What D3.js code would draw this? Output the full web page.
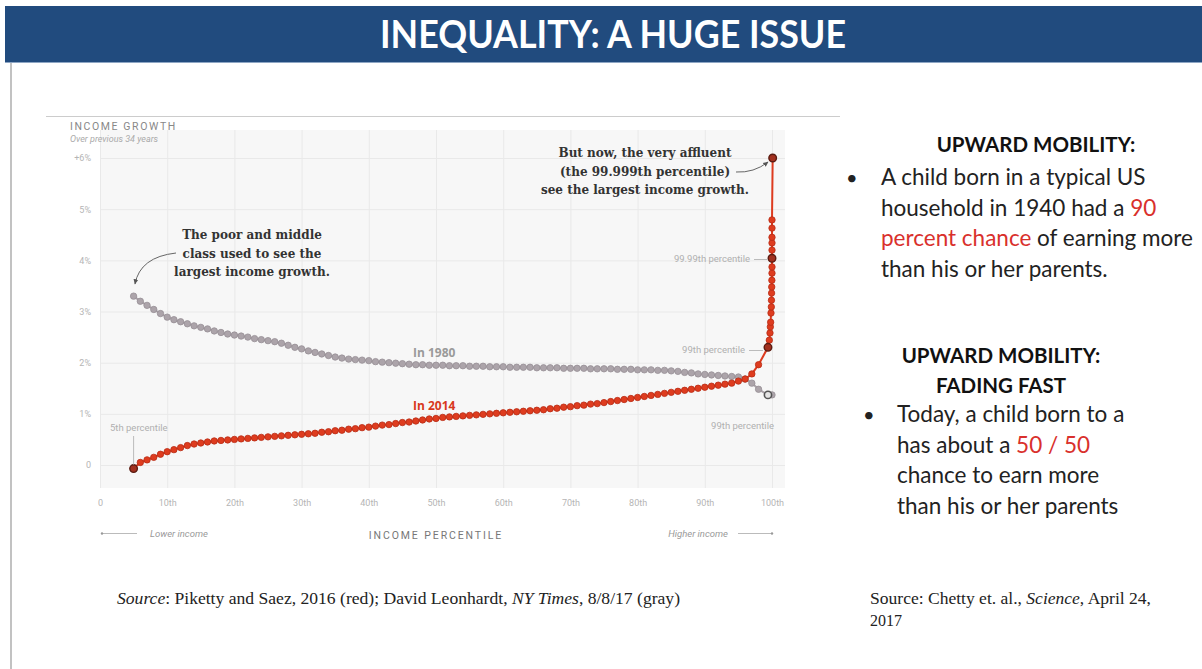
<!DOCTYPE html>
<html>
<head>
<meta charset="utf-8">
<script src="https://cdn.jsdelivr.net/npm/d3@7"></script>
<style>
  body { margin: 0; background: #fff; }
  svg { display: block; }
</style>
</head>
<body>
<script>
// income growth, % per year over previous 34 years, by income percentile
var pct1980 = [5,6,7,8,9,10,11,12,13,14,15,16,17,18,19,20,21,22,23,24,25,26,27,28,29,30,
  31,32,33,34,35,36,37,38,39,40,41,42,43,44,45,46,47,48,49,50,51,52,53,54,55,56,57,58,59,60,
  61,62,63,64,65,66,67,68,69,70,71,72,73,74,75,76,77,78,79,80,81,82,83,84,85,86,87,88,89,90,
  91,92,93,94,95,96,97,98,99.4,100];
var growth1980 = [3.30,3.20,3.12,3.04,2.96,2.89,2.84,2.80,2.76,2.72,2.69,2.66,2.62,2.59,2.56,2.54,
  2.52,2.50,2.47,2.45,2.43,2.41,2.38,2.34,2.30,2.27,2.23,2.20,2.17,2.14,2.11,2.09,2.07,2.06,2.05,
  2.04,2.02,2.01,2.00,1.99,1.98,1.97,1.96,1.96,1.95,1.95,1.95,1.94,1.94,1.94,1.93,1.93,1.93,1.92,
  1.92,1.92,1.91,1.91,1.91,1.91,1.90,1.90,1.90,1.90,1.89,1.89,1.89,1.89,1.88,1.88,1.88,1.88,1.87,
  1.87,1.87,1.86,1.86,1.86,1.85,1.85,1.84,1.83,1.81,1.80,1.78,1.77,1.76,1.75,1.74,1.73,1.72,1.68,
  1.60,1.48,1.37,1.37];

var pct2014 = [5,6,7,8,9,10,11,12,13,14,15,16,17,18,19,20,21,22,23,24,25,26,27,28,29,30,
  31,32,33,34,35,36,37,38,39,40,41,42,43,44,45,46,47,48,49,50,51,52,53,54,55,56,57,58,59,60,
  61,62,63,64,65,66,67,68,69,70,71,72,73,74,75,76,77,78,79,80,81,82,83,84,85,86,87,88,89,90,
  91,92,93,94,95,96,97,98,99.4,
  99.6,99.7,99.75,99.8,99.85,99.9,99.92,99.94,99.96,99.98,100,100,100,100,100,100,100,100,100.1];
var growth2014 = [-0.07,0.05,0.10,0.15,0.21,0.26,0.30,0.34,0.38,0.41,0.43,0.45,0.47,0.48,0.49,0.50,
  0.51,0.52,0.53,0.54,0.55,0.56,0.57,0.58,0.59,0.60,0.61,0.62,0.64,0.65,0.67,0.68,0.70,0.71,0.73,
  0.74,0.76,0.78,0.79,0.81,0.83,0.84,0.86,0.88,0.90,0.91,0.93,0.94,0.95,0.96,0.97,0.98,0.99,1.00,
  1.01,1.02,1.03,1.04,1.05,1.06,1.07,1.08,1.10,1.11,1.13,1.14,1.16,1.17,1.19,1.20,1.22,1.24,1.26,
  1.28,1.30,1.32,1.34,1.36,1.38,1.40,1.42,1.44,1.46,1.48,1.50,1.52,1.54,1.56,1.58,1.60,1.64,1.68,
  1.78,1.96,2.30,
  2.44,2.58,2.70,2.79,2.97,3.09,3.22,3.36,3.48,3.61,3.75,3.87,4.04,4.20,4.34,4.45,4.63,4.79,6.00];

// highlighted points (index into each series)
var darkRed = [0, 94, 107, 113];
var openGray = [94];

var xTicks = [0,10,20,30,40,50,60,70,80,90,100];
var xTickLabels = ["0","10th","20th","30th","40th","50th","60th","70th","80th","90th","100th"];
var yTicks = [0,1,2,3,4,5,6];
var yTickLabels = ["0","1%","2%","3%","4%","5%","+6%"];

var W = 1202, H = 669;
var svg = d3.select('body').append('svg').attr('width', W).attr('height', H);

// slide header
svg.append('rect').attr('x', 5).attr('y', 6).attr('width', W - 5).attr('height', 56).attr('fill', '#214b7e');
svg.append('line').attr('x1', 5).attr('x2', W).attr('y1', 62.5).attr('y2', 62.5).attr('stroke', '#8ea6c4');
svg.append('text').attr('x', 613).attr('y', 48)
  .attr('text-anchor', 'middle')
  .attr('font-family', '"Liberation Sans Narrow", Lato, sans-serif')
  .attr('font-weight', 'bold').attr('font-size', 38).attr('fill', '#fff')
  .attr('textLength', 466).attr('lengthAdjust', 'spacingAndGlyphs')
  .text('INEQUALITY: A HUGE ISSUE');
svg.append('line').attr('x1', 11).attr('x2', 11).attr('y1', 63).attr('y2', H).attr('stroke', '#999').attr('stroke-width', 1.2);

// chart picture frame
svg.append('line').attr('x1', 46).attr('x2', 840).attr('y1', 116.5).attr('y2', 116.5).attr('stroke', '#ccc');

var x = d3.scaleLinear().domain([0, 100]).range([100, 772]);
var y = d3.scaleLinear().domain([0, 6]).range([465, 158]);

var plot = svg.append('g');
plot.append('rect')
  .attr('x', x(0)).attr('y', y(6) - 28)
  .attr('width', x(100) - x(0) + 13).attr('height', y(-0.45) - y(6) + 28)
  .attr('fill', '#f7f7f7');

// grid through axes
var gx = plot.append('g').attr('transform', 'translate(0,' + (y(6) - 28) + ')')
  .call(d3.axisBottom(x).tickValues(xTicks).tickSize(y(-0.45) - y(6) + 28).tickFormat(''));
gx.select('.domain').remove();
gx.selectAll('line').attr('stroke', '#e9e9e9');

var gy = plot.append('g').attr('transform', 'translate(' + x(0) + ',0)')
  .call(d3.axisRight(y).tickValues(yTicks).tickSize(x(100) - x(0) + 13).tickFormat(''));
gy.select('.domain').remove();
gy.selectAll('line').attr('stroke', '#e9e9e9');

// tick labels
var tickFont = 'Roboto, "Noto Sans", sans-serif';
var ly = plot.append('g').attr('transform', 'translate(' + (x(0) - 6) + ',0)')
  .call(d3.axisLeft(y).tickValues(yTicks).tickSize(0).tickFormat(function (d, i) { return yTickLabels[i]; }));
ly.select('.domain').remove();
ly.selectAll('text').attr('font-family', tickFont).attr('font-size', 9).attr('fill', '#b5b5b5');

var lx = plot.append('g').attr('transform', 'translate(0,' + (y(-0.45) + 9) + ')')
  .call(d3.axisBottom(x).tickValues(xTicks).tickSize(0).tickFormat(function (d, i) { return xTickLabels[i]; }));
lx.select('.domain').remove();
lx.selectAll('text').attr('font-family', tickFont).attr('font-size', 9).attr('fill', '#b5b5b5');

// axis titles
svg.append('text').attr('x', 70).attr('y', 130)
  .attr('font-family', tickFont).attr('font-size', 10.5).attr('letter-spacing', 1.6).attr('fill', '#888')
  .text('INCOME GROWTH');
svg.append('text').attr('x', 70).attr('y', 142)
  .attr('font-family', tickFont).attr('font-size', 9).attr('font-style', 'italic').attr('fill', '#aaa')
  .text('Over previous 34 years');
svg.append('text').attr('x', (x(0) + x(100)) / 2).attr('y', 539).attr('text-anchor', 'middle')
  .attr('font-family', tickFont).attr('font-size', 10.5).attr('letter-spacing', 1.9).attr('fill', '#777')
  .text('INCOME PERCENTILE');
svg.append('text').attr('x', 150).attr('y', 537)
  .attr('font-family', tickFont).attr('font-size', 9.5).attr('font-style', 'italic').attr('fill', '#999')
  .text('Lower income');
svg.append('text').attr('x', 728).attr('y', 537).attr('text-anchor', 'end')
  .attr('font-family', tickFont).attr('font-size', 9.5).attr('font-style', 'italic').attr('fill', '#999')
  .text('Higher income');
svg.append('line').attr('x1', 103).attr('x2', 137).attr('y1', 533.5).attr('y2', 533.5).attr('stroke', '#bbb');
svg.append('circle').attr('cx', 102).attr('cy', 533.5).attr('r', 1.2).attr('fill', '#999');
svg.append('line').attr('x1', 738).attr('x2', 771).attr('y1', 533.5).attr('y2', 533.5).attr('stroke', '#bbb');
svg.append('circle').attr('cx', 772).attr('cy', 533.5).attr('r', 1.2).attr('fill', '#999');

// series
var grayData = pct1980.map(function (p, i) { return { p: p, v: growth1980[i] }; });
var redData = pct2014.map(function (p, i) { return { p: p, v: growth2014[i] }; });
var line = d3.line().x(function (d) { return x(d.p); }).y(function (d) { return y(d.v); });

plot.append('path').datum(grayData).attr('d', line)
  .attr('fill', 'none').attr('stroke', '#aaa2a8').attr('stroke-width', 2);
plot.append('g').selectAll('circle').data(grayData).enter().append('circle')
  .attr('cx', function (d) { return x(d.p); })
  .attr('cy', function (d) { return y(d.v); })
  .attr('r', 3.2)
  .attr('fill', '#aca4aa').attr('stroke', '#978f95').attr('stroke-width', 0.8);
plot.append('g').selectAll('circle').data(openGray).enter().append('circle')
  .attr('cx', function (i) { return x(grayData[i].p); })
  .attr('cy', function (i) { return y(grayData[i].v); })
  .attr('r', 3.6).attr('fill', '#e4e4e4').attr('stroke', '#555').attr('stroke-width', 1.6);

plot.append('path').datum(redData).attr('d', line)
  .attr('fill', 'none').attr('stroke', '#dd3b1f').attr('stroke-width', 2);
plot.append('g').selectAll('circle').data(redData).enter().append('circle')
  .attr('cx', function (d) { return x(d.p); })
  .attr('cy', function (d) { return y(d.v); })
  .attr('r', 3.2)
  .attr('fill', '#de3c1f').attr('stroke', '#b82c15').attr('stroke-width', 0.8);
plot.append('g').selectAll('circle').data(darkRed).enter().append('circle')
  .attr('cx', function (i) { return x(redData[i].p); })
  .attr('cy', function (i) { return y(redData[i].v); })
  .attr('r', 3.8).attr('fill', '#a2301f').attr('stroke', '#5b1c12').attr('stroke-width', 1.4);

// series labels
svg.append('text').attr('x', 413).attr('y', 357)
  .attr('font-family', '"Open Sans", sans-serif').attr('font-weight', 'bold').attr('font-size', 12)
  .attr('fill', '#9a9a9a').text('In 1980');
svg.append('text').attr('x', 413).attr('y', 410)
  .attr('font-family', '"Open Sans", sans-serif').attr('font-weight', 'bold').attr('font-size', 12)
  .attr('fill', '#d8391d').text('In 2014');

// percentile notes
var noteFont = 'Roboto, "Noto Sans", sans-serif';
function note(tx, ty, anchor, s) {
  svg.append('text').attr('x', tx).attr('y', ty).attr('text-anchor', anchor)
    .attr('font-family', noteFont).attr('font-size', 9.5).attr('fill', '#b0b0b0').text(s);
}
note(110, 431, 'start', '5th percentile');
svg.append('line').attr('x1', x(5)).attr('x2', x(5)).attr('y1', 436).attr('y2', y(growth2014[0]) - 4).attr('stroke', '#bbb');
note(750, 262, 'end', '99.99th percentile');
svg.append('line').attr('x1', 754).attr('x2', x(redData[107].p) - 5).attr('y1', 259.5).attr('y2', 259.5).attr('stroke', '#bbb');
note(745, 353, 'end', '99th percentile');
svg.append('line').attr('x1', 749).attr('x2', x(redData[94].p) - 5).attr('y1', 350.5).attr('y2', 350.5).attr('stroke', '#bbb');
note(774, 429, 'end', '99th percentile');

// annotations
var annFont = '"DejaVu Serif", Georgia, serif';
function ann(cx, ty, lines) {
  var t = svg.append('text').attr('text-anchor', 'middle')
    .attr('font-family', annFont).attr('font-weight', 'bold').attr('font-size', 12).attr('fill', '#333');
  lines.forEach(function (s, i) {
    t.append('tspan').attr('x', cx).attr('y', ty + i * 18.5).text(s);
  });
}
ann(252, 239, ['The poor and middle', 'class used to see the', 'largest income growth.']);
ann(645, 157, ['But now, the very affluent', '(the 99.999th percentile)', 'see the largest income growth.']);

svg.append('defs').append('marker').attr('id', 'ah')
  .attr('viewBox', '0 0 10 10').attr('refX', 8).attr('refY', 5)
  .attr('markerWidth', 6).attr('markerHeight', 6).attr('orient', 'auto')
  .append('path').attr('d', 'M0,1 L9,5 L0,9 Z').attr('fill', '#555');
svg.append('path').attr('d', 'M176,253 Q140,257 135,284')
  .attr('fill', 'none').attr('stroke', '#666').attr('stroke-width', 1).attr('marker-end', 'url(#ah)');
svg.append('path').attr('d', 'M736,172 Q754,173 768,162')
  .attr('fill', 'none').attr('stroke', '#666').attr('stroke-width', 1).attr('marker-end', 'url(#ah)');

// right-hand text
var slideFont = 'Lato, "Open Sans", sans-serif';
function heading(cx, ty, s) {
  svg.append('text').attr('x', cx).attr('y', ty).attr('text-anchor', 'middle')
    .attr('font-family', slideFont).attr('font-weight', 'bold').attr('font-size', 20.5).attr('fill', '#111').text(s);
}
function para(bx, tx, ty, lines) {
  svg.append('text').attr('x', bx).attr('y', ty).attr('font-family', slideFont).attr('font-size', 20).attr('fill', '#222').text('•');
  lines.forEach(function (parts, i) {
    var t = svg.append('text').attr('x', tx).attr('y', ty + i * 30.5)
      .attr('font-family', slideFont).attr('font-size', 22.5).attr('fill', '#222');
    parts.forEach(function (p) {
      t.append('tspan').attr('fill', p[1] ? '#d9302c' : '#222').text(p[0]);
    });
  });
}
heading(1036, 152, 'UPWARD MOBILITY:');
para(846, 881, 185, [
  [['A child born in a typical US']],
  [['household in 1940 had a '], ['90', 1]],
  [['percent chance', 1], [' of earning more']],
  [['than his or her parents.']]
]);
heading(1001, 363, 'UPWARD MOBILITY:');
heading(1001, 393, 'FADING FAST');
para(863, 897, 422, [
  [['Today, a child born to a']],
  [['has about a '], ['50 / 50', 1]],
  [['chance to earn more']],
  [['than his or her parents']]
]);

// sources
var srcFont = '"Liberation Serif", "Times New Roman", serif';
var s1 = svg.append('text').attr('x', 117).attr('y', 604)
  .attr('font-family', srcFont).attr('font-size', 16).attr('fill', '#222')
  .attr('textLength', 563).attr('lengthAdjust', 'spacingAndGlyphs');
s1.append('tspan').attr('font-style', 'italic').text('Source');
s1.append('tspan').text(': Piketty and Saez, 2016 (red); David Leonhardt, ');
s1.append('tspan').attr('font-style', 'italic').text('NY Times');
s1.append('tspan').text(', 8/8/17 (gray)');

var s2 = svg.append('text').attr('x', 870).attr('y', 604)
  .attr('font-family', srcFont).attr('font-size', 16).attr('fill', '#222')
  .attr('textLength', 281).attr('lengthAdjust', 'spacingAndGlyphs');
s2.append('tspan').text('Source: Chetty et. al., ');
s2.append('tspan').attr('font-style', 'italic').text('Science');
s2.append('tspan').text(', April 24,');
svg.append('text').attr('x', 870).attr('y', 626)
  .attr('font-family', srcFont).attr('font-size', 16).attr('fill', '#222').text('2017');
</script>
</body>
</html>
